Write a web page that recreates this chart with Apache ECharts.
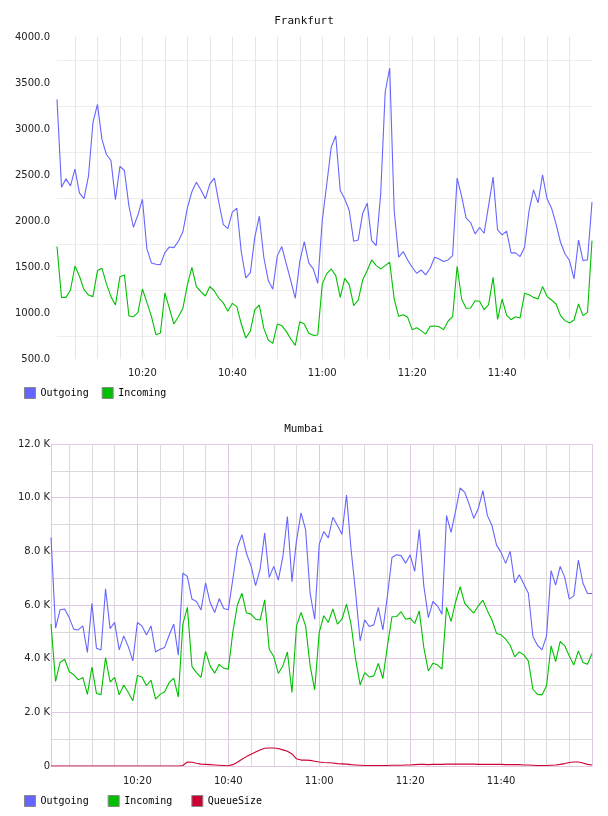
<!DOCTYPE html>
<html><head><meta charset="utf-8">
<script src="https://cdn.jsdelivr.net/npm/echarts@6/dist/echarts.min.js"></script>
<style>html,body{margin:0;padding:0;background:#fff}#c{width:608px;height:816px}</style>
</head><body><div id="c"></div>
<script>
// Categories: one sample per minute, 10:01 .. 12:00
const times = [];
for (let m = 61; m <= 120 + 60; m++) {
  const h = 9 + Math.floor(m / 60), mm = m % 60;
  times.push(h + ':' + String(mm).padStart(2, '0'));
}
const topTickLabels = ['10:20', '10:40', '11:00', '11:20', '11:40'];
const bottomTickLabels = ['10:20', '10:40', '11:00', '11:20', '11:40'];

const frankfurtOutgoing = [
  3322, 2368, 2458, 2382, 2564, 2302, 2244, 2487, 3072, 3267,
  2887, 2723, 2658, 2233, 2593, 2549, 2161, 1932, 2067, 2237,
  1697, 1544, 1530, 1526, 1657, 1718, 1711, 1780, 1882, 2143,
  2317, 2422, 2339, 2241, 2404, 2466, 2201, 1961, 1918, 2096,
  2139, 1660, 1381, 1435, 1824, 2052, 1606, 1352, 1258, 1621,
  1722, 1533, 1352, 1160, 1559, 1776, 1544, 1479, 1323, 2005,
  2400, 2803, 2926, 2331, 2241, 2114, 1780, 1794, 2085, 2194,
  1787, 1733, 2295, 3402, 3663, 2114, 1606, 1668, 1577, 1497,
  1432, 1468, 1414, 1486, 1606, 1588, 1559, 1577, 1624, 2466,
  2270, 2031, 1983, 1860, 1929, 1867, 2168, 2477, 1903, 1849,
  1889, 1653, 1653, 1613, 1715, 2114, 2339, 2197, 2502, 2241,
  2139, 1969, 1769, 1642, 1570, 1370, 1794, 1570, 1577, 2205
];
const frankfurtIncoming = [
  1722, 1170, 1170, 1250, 1511, 1399, 1254, 1196, 1178, 1461,
  1486, 1316, 1178, 1087, 1395, 1414, 967, 960, 1004, 1261,
  1116, 964, 764, 782, 1218, 1051, 880, 960, 1051, 1305,
  1497, 1287, 1232, 1185, 1287, 1239, 1160, 1109, 1018, 1105,
  1069, 880, 728, 804, 1036, 1087, 833, 706, 670, 880,
  862, 800, 717, 648, 906, 880, 779, 757, 761, 1316,
  1428, 1479, 1406, 1170, 1377, 1308, 1080, 1141, 1359, 1461,
  1577, 1515, 1479, 1515, 1551, 1152, 964, 982, 953, 819,
  840, 808, 771, 855, 858, 851, 819, 913, 960, 1508,
  1152, 1051, 1054, 1134, 1127, 1036, 1091, 1388, 931, 1152,
  978, 927, 960, 946, 1214, 1199, 1170, 1152, 1287, 1181,
  1141, 1098, 971, 917, 891, 924, 1098, 971, 1007, 1787
];
const mumbaiOutgoing = [
  8520, 5140, 5820, 5850, 5530, 5100, 5070, 5220, 4230, 6060,
  4390, 4320, 6600, 5120, 5350, 4330, 4850, 4450, 3920, 5350,
  5220, 4880, 5220, 4250, 4350, 4420, 4880, 5290, 4130, 7190,
  7060, 6220, 6130, 5810, 6820, 6090, 5720, 6240, 5870, 5820,
  6970, 8150, 8620, 7920, 7460, 6720, 7340, 8680, 7030, 7440,
  6930, 7800, 9300, 6870, 8400, 9430, 8810, 6430, 5470, 8270,
  8740, 8500, 9270, 8960, 8640, 10100, 8080, 6470, 4660, 5450,
  5200, 5260, 5910, 5070, 6340, 7770, 7870, 7840, 7560, 7870,
  7250, 8810, 6720, 5530, 6130, 5970, 5660, 9330, 8710, 9510,
  10360, 10200, 9740, 9230, 9600, 10260, 9330, 8960, 8230, 7960,
  7550, 8000, 6820, 7130, 6780, 6440, 4830, 4500, 4330, 4850,
  7280, 6740, 7440, 7030, 6220, 6340, 7670, 6820, 6430, 6430
];
const mumbaiIncoming = [
  5290, 3150, 3860, 3980, 3520, 3400, 3210, 3300, 2670, 3690,
  2700, 2660, 4040, 3130, 3300, 2650, 3020, 2740, 2430, 3370,
  3320, 2990, 3200, 2490, 2670, 2770, 3110, 3270, 2570, 5290,
  5910, 3710, 3480, 3300, 4270, 3730, 3460, 3790, 3640, 3610,
  5000, 6010, 6440, 5700, 5660, 5470, 5440, 6190, 4350, 4080,
  3450, 3730, 4250, 2740, 5220, 5720, 5220, 3730, 2840, 4980,
  5600, 5350, 5850, 5290, 5470, 6030, 5290, 3980, 3020, 3480,
  3320, 3360, 3820, 3260, 4480, 5560, 5570, 5750, 5470, 5510,
  5310, 5780, 4420, 3540, 3830, 3770, 3610, 5910, 5390, 6120,
  6680, 6060, 5870, 5700, 5970, 6180, 5780, 5440, 4940, 4890,
  4730, 4500, 4070, 4250, 4140, 3920, 2860, 2670, 2650, 2990,
  4480, 3890, 4640, 4480, 4100, 3760, 4290, 3860, 3790, 4190
];
const mumbaiQueueSize = [
  0, 0, 0, 0, 0, 0, 0, 0, 0, 0,
  0, 0, 0, 0, 0, 0, 0, 0, 0, 0,
  0, 0, 0, 0, 0, 0, 0, 0, 0, 20,
  150, 140, 100, 70, 60, 50, 40, 30, 20, 10,
  50, 140, 250, 350, 440, 520, 600, 660, 670, 670,
  650, 600, 550, 450, 270, 220, 220, 210, 180, 150,
  130, 120, 110, 90, 80, 70, 50, 40, 30, 20,
  20, 20, 20, 20, 20, 30, 30, 30, 40, 40,
  50, 60, 60, 50, 60, 60, 60, 70, 70, 70,
  70, 70, 70, 70, 60, 60, 60, 60, 60, 60,
  50, 50, 50, 50, 40, 40, 30, 20, 20, 20,
  30, 40, 60, 90, 130, 150, 150, 110, 60, 40
];

const C_OUT = '#6666ff', C_IN = '#00c000', C_Q = '#cc0033';
const mono = 'DejaVu Sans Mono', sans = 'DejaVu Sans';
const minuteOf = v => parseInt(v.split(':')[1], 10);
const last = times.length - 1;

const chart = echarts.init(document.getElementById('c'), null, { renderer: 'canvas' });
const lineSeries = (name, data, color, xi, yi, z) => ({
  name, type: 'line', data, xAxisIndex: xi, yAxisIndex: yi,
  showSymbol: false, symbol: 'none', color, z: z || 2,
  lineStyle: { width: 1.1, color }, itemStyle: { color }, animation: false
});

chart.setOption({
  animation: false,
  title: [
    { text: 'Frankfurt', left: 'center', top: 16, padding: 0, textStyle: { fontFamily: mono, fontSize: 11, fontWeight: 'normal', color: '#111' } },
    { text: 'Mumbai', left: 'center', top: 424, padding: 0, textStyle: { fontFamily: mono, fontSize: 11, fontWeight: 'normal', color: '#111' } }
  ],
  legend: [
    { data: ['Outgoing', 'Incoming'], left: 24, top: 387, padding: 0, icon: 'rect', itemWidth: 11, itemHeight: 11, itemGap: 13,
      itemStyle: { borderColor: '#888', borderWidth: 1 }, textStyle: { fontFamily: mono, fontSize: 10, color: '#000' } },
    { data: ['Outgoing', 'Incoming', 'QueueSize'], left: 24, top: 795, padding: 0, icon: 'rect', itemWidth: 11, itemHeight: 11, itemGap: 19,
      itemStyle: { borderColor: '#888', borderWidth: 1 }, textStyle: { fontFamily: mono, fontSize: 10, color: '#000' } }
  ],
  grid: [
    { left: 57, right: 16, top: 37, height: 322 },
    { left: 51, right: 16, top: 444, height: 322 }
  ],
  xAxis: [
    { type: 'category', gridIndex: 0, data: times, boundaryGap: false,
      axisLine: { show: false }, axisTick: { show: false },
      axisLabel: { interval: (i, v) => topTickLabels.indexOf(v) >= 0, margin: 9, fontFamily: sans, fontSize: 10, color: '#222' },
      splitLine: { show: true, interval: (i, v) => minuteOf(v) % 5 === 0 && i !== last, lineStyle: { color: '#e6e6e6', width: 1 } } },
    { type: 'category', gridIndex: 1, data: times, boundaryGap: false,
      axisLine: { show: true, lineStyle: { color: '#e3c8e3' } }, axisTick: { show: false },
      axisLabel: { interval: (i, v) => bottomTickLabels.indexOf(v) >= 0, margin: 10, fontFamily: sans, fontSize: 10, color: '#222' },
      splitLine: { show: true, interval: (i, v) => minuteOf(v) % 20 === 0, lineStyle: { color: '#e3c8e3', width: 1 } } },
    { type: 'category', gridIndex: 1, data: times, boundaryGap: false, position: 'bottom',
      axisLine: { show: false }, axisTick: { show: false }, axisLabel: { show: false },
      splitLine: { show: true, interval: (i, v) => minuteOf(v) % 5 === 0 && minuteOf(v) % 20 !== 0, lineStyle: { color: '#ddd8dd', width: 1 } } }
  ],
  yAxis: [
    { type: 'value', gridIndex: 0, min: 500, max: 4000, interval: 500,
      axisLine: { show: false }, axisTick: { show: false },
      axisLabel: { formatter: v => v.toFixed(1), margin: 7, fontFamily: sans, fontSize: 10, color: '#222' },
      splitLine: { show: false },
      minorTick: { show: false, splitNumber: 2 },
      minorSplitLine: { show: true, lineStyle: { color: '#ececec', width: 1 } } },
    { type: 'value', gridIndex: 1, min: 0, max: 12000, interval: 2000,
      axisLine: { show: true, lineStyle: { color: '#e3c8e3' } }, axisTick: { show: false },
      axisLabel: { formatter: v => v === 0 ? '0' : (v / 1000).toFixed(1) + ' K', margin: 1, fontFamily: sans, fontSize: 10, color: '#222' },
      splitLine: { show: true, lineStyle: { color: '#e3c8e3', width: 1 } },
      minorTick: { show: false, splitNumber: 2 },
      minorSplitLine: { show: true, lineStyle: { color: '#ddd8dd', width: 1 } } }
  ],
  series: [
    lineSeries('Outgoing', frankfurtOutgoing, C_OUT, 0, 0),
    lineSeries('Incoming', frankfurtIncoming, C_IN, 0, 0),
    lineSeries('Outgoing', mumbaiOutgoing, C_OUT, 1, 1),
    lineSeries('Incoming', mumbaiIncoming, C_IN, 1, 1),
    lineSeries('QueueSize', mumbaiQueueSize, C_Q, 1, 1, 3)
  ]
});
</script></body></html>
